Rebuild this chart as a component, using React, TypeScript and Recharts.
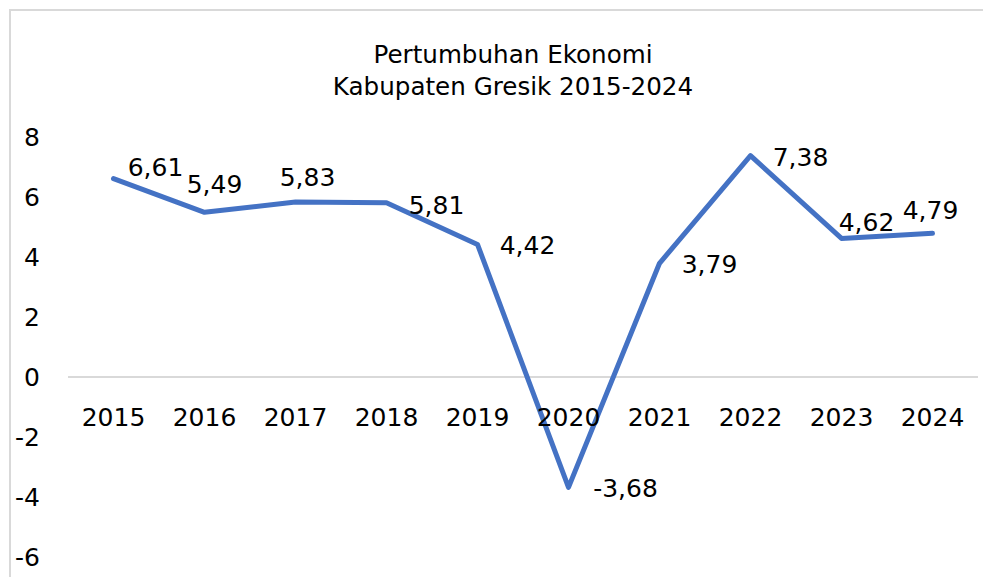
import { LabelList, Line, LineChart, ReferenceLine, XAxis, YAxis } from "recharts";

const YEARS = ["2015", "2016", "2017", "2018", "2019", "2020", "2021", "2022", "2023", "2024"];
const GROWTH = [6.61, 5.49, 5.83, 5.81, 4.42, -3.68, 3.79, 7.38, 4.62, 4.79];
const Y_TICKS = [-6, -4, -2, 0, 2, 4, 6, 8];
const TITLE = ["Pertumbuhan Ekonomi", "Kabupaten Gresik 2015-2024"];

const data = YEARS.map((year, i) => ({ year, value: GROWTH[i] }));

const FONT = "'DejaVu Sans', Verdana, sans-serif";
const BLUE = "#4472C4";

// where each data label sits relative to its point (hand placed in the original)
const LABEL_OFFSETS = [
  [42, -12],
  [10, -28],
  [12, -25],
  [50, 2],
  [50, 1],
  [57, 1],
  [50, 1],
  [50, 1.5],
  [25, -16],
  [-2, -23],
];

function ValueLabel(props: any) {
  const { x, y, index, value } = props;
  const [dx, dy] = LABEL_OFFSETS[index] || [0, 0];
  return (
    <text
      x={x + dx}
      y={y + dy + 9}
      textAnchor="middle"
      fontSize={25}
      fontFamily={FONT}
      fill="#000"
    >
      {Number(value).toFixed(2).replace(".", ",")}
    </text>
  );
}

function YearTick(props: any) {
  const { x, y, payload } = props;
  return (
    <text
      x={x}
      y={y - 131}
      textAnchor="middle"
      fontSize={25}
      fontFamily={FONT}
      fill="#000"
    >
      {payload.value}
    </text>
  );
}

export default function App() {
  return (
    <div
      style={{
        position: "absolute",
        left: 0,
        top: 0,
        width: 983,
        height: 577,
        background: "#fff",
        fontFamily: FONT,
        overflow: "hidden",
      }}
    >
      <div
        style={{
          position: "absolute",
          left: 9,
          top: 9,
          width: 990,
          height: 600,
          borderLeft: "2px solid #d9d9d9",
          borderTop: "2px solid #d9d9d9",
        }}
      />
      <div
        style={{
          position: "absolute",
          left: 263,
          top: 38.5,
          width: 500,
          textAlign: "center",
          fontSize: 24.6,
          lineHeight: "32px",
          color: "#000",
        }}
      >
        {TITLE.map((t) => (
          <div key={t}>{t}</div>
        ))}
      </div>
      <div style={{ position: "absolute", left: 0, top: 0 }}>
        <LineChart
          width={983}
          height={577}
          data={data}
          margin={{ top: 137, right: 5, bottom: 0, left: 0 }}
        >
          <XAxis
            dataKey="year"
            height={20}
            axisLine={false}
            tickLine={false}
            tickSize={0}
            tickMargin={0}
            padding={{ left: 45.5, right: 45.5 }}
            interval={0}
            tick={<YearTick />}
          />
          <YAxis
            width={68}
            domain={[-6, 8]}
            ticks={Y_TICKS}
            axisLine={false}
            tickLine={false}
            tickSize={0}
            tickMargin={28}
            interval={0}
            tick={{ fontSize: 25, fontFamily: FONT, fill: "#000" }}
          />
          <ReferenceLine y={0} stroke="#d9d9d9" strokeWidth={2} />
          <Line
            dataKey="value"
            type="linear"
            stroke={BLUE}
            strokeWidth={5}
            strokeLinecap="round"
            strokeLinejoin="round"
            dot={false}
            activeDot={false}
            isAnimationActive={false}
          >
            <LabelList dataKey="value" content={<ValueLabel />} />
          </Line>
        </LineChart>
      </div>
    </div>
  );
}
